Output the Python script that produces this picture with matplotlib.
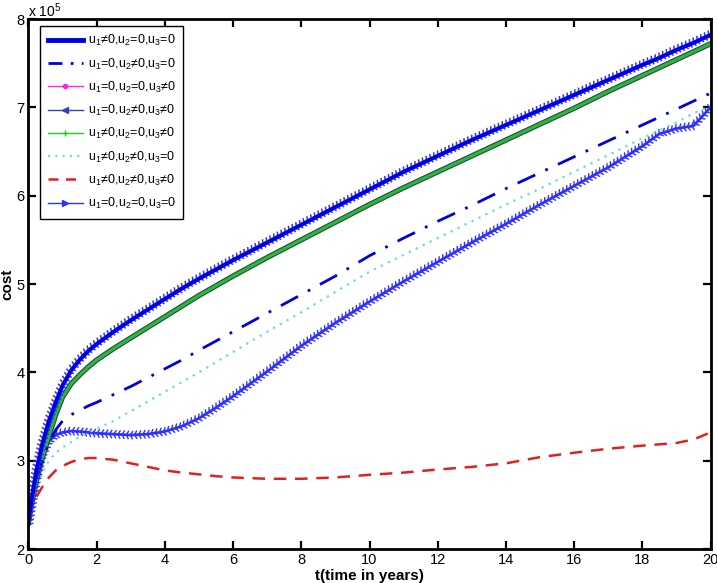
import numpy as np
import matplotlib
matplotlib.use("Agg")
import matplotlib.pyplot as plt
import matplotlib.patheffects as pe
from matplotlib.lines import Line2D

plt.rcParams['font.family'] = ['Liberation Sans', 'DejaVu Sans']
plt.rcParams['mathtext.fontset'] = 'custom'
plt.rcParams['mathtext.rm'] = 'Liberation Sans'
plt.rcParams['mathtext.it'] = 'Liberation Sans:italic'

# time grid (years) and cost curves (units of 1e5)
t = [0, 0.1, 0.25, 0.4, 0.6, 0.8, 1, 1.25, 1.5, 1.75, 2, 2.5, 3, 3.5, 4, 4.5,
     5, 5.5, 6, 7, 8, 9, 10, 11, 12, 13, 14, 15, 16, 17, 18, 18.5, 19, 19.5, 20]

cost_u1 = [2.30, 2.58, 2.92, 3.18, 3.45, 3.66, 3.85, 4.02, 4.14, 4.24, 4.32, 4.46,
           4.59, 4.71, 4.83, 4.95, 5.06, 5.165, 5.27, 5.47, 5.67, 5.87, 6.07, 6.27,
           6.45, 6.63, 6.80, 6.97, 7.14, 7.31, 7.48, 7.56, 7.65, 7.73, 7.82]
cost_u2 = [2.30, 2.55, 2.82, 3.00, 3.20, 3.35, 3.45, 3.52, 3.57, 3.62, 3.66, 3.75,
           3.84, 3.94, 4.04, 4.14, 4.25, 4.355, 4.46, 4.67, 4.88, 5.09, 5.32, 5.52,
           5.71, 5.89, 6.08, 6.26, 6.44, 6.62, 6.80, 6.89, 6.98, 7.07, 7.16]
cost_u3 = [2.30, 2.52, 2.80, 3.02, 3.28, 3.52, 3.72, 3.87, 3.97, 4.06, 4.14, 4.27,
           4.39, 4.51, 4.63, 4.75, 4.87, 4.98, 5.09, 5.30, 5.50, 5.70, 5.90, 6.09,
           6.27, 6.45, 6.63, 6.81, 6.99, 7.18, 7.36, 7.45, 7.54, 7.63, 7.72]
cost_u2u3 = cost_u1
cost_u1u3 = cost_u3
cost_u1u2 = [2.30, 2.48, 2.70, 2.86, 3.00, 3.09, 3.15, 3.21, 3.27, 3.32, 3.36, 3.45,
             3.56, 3.67, 3.78, 3.89, 4.00, 4.115, 4.23, 4.46, 4.68, 4.91, 5.14, 5.33,
             5.52, 5.71, 5.90, 6.08, 6.27, 6.46, 6.65, 6.74, 6.83, 6.93, 7.02]
cost_all = [2.37, 2.47, 2.60, 2.70, 2.81, 2.89, 2.94, 2.985, 3.015, 3.03, 3.03, 3.01,
            2.97, 2.93, 2.89, 2.865, 2.845, 2.825, 2.81, 2.795, 2.795, 2.81, 2.84, 2.865,
            2.90, 2.93, 2.97, 3.04, 3.09, 3.135, 3.17, 3.185, 3.20, 3.24, 3.32]
cost_none = [2.25, 2.48, 2.80, 3.05, 3.22, 3.29, 3.32, 3.335, 3.33, 3.32, 3.31, 3.30,
             3.29, 3.30, 3.33, 3.39, 3.48, 3.60, 3.73, 4.01, 4.30, 4.56, 4.80, 5.03,
             5.25, 5.47, 5.68, 5.90, 6.11, 6.32, 6.56, 6.70, 6.76, 6.79, 7.00]

labels = ['u$_1$≠0,u$_2$=0,u$_3$=0', 'u$_1$=0,u$_2$≠0,u$_3$=0',
          'u$_1$=0,u$_2$=0,u$_3$≠0', 'u$_1$=0,u$_2$≠0,u$_3$≠0',
          'u$_1$≠0,u$_2$=0,u$_3$≠0', 'u$_1$≠0,u$_2$≠0,u$_3$=0',
          'u$_1$≠0,u$_2$≠0,u$_3$≠0', 'u$_1$=0,u$_2$=0,u$_3$=0']

blue = '#0000dd'
tri = '#3030ff'

fig = plt.figure(figsize=(7.17, 5.83), dpi=100)
ax = fig.add_axes([0.0397, 0.0583, 0.9513, 0.9091])

# no control (dense right triangles)
ax.plot(t, cost_none, color=tri, lw=2.0,
        path_effects=[pe.TickedStroke(spacing=3, angle=60, length=1.0, linewidth=1.0),
                      pe.TickedStroke(spacing=3, angle=-60, length=1.0, linewidth=1.0),
                      pe.Normal()])
ax.plot(t, cost_all, color='#dd2222', lw=1.8, dashes=(5, 3.5))
ax.plot(t, cost_u1u2, color='#66dddd', lw=1.6, ls=(0, (1, 2.5)))
ax.plot(t, cost_u3, color='#ff22ff', lw=1.0)
ax.plot(t, cost_u1u3, color='#22bb44', lw=2.2,
        path_effects=[pe.Stroke(linewidth=3.8, foreground='#334433'), pe.Normal()])
ax.plot(t, cost_u2, color=blue, lw=2.0, dashes=(7, 4, 1, 4))
# thick u1 line with u2u3 triangle markers on top
ax.plot(t, cost_u2u3, color=tri, lw=3.0,
        path_effects=[pe.TickedStroke(spacing=3, angle=70, length=1.1, linewidth=1.1),
                      pe.TickedStroke(spacing=3, angle=-70, length=0.8, linewidth=1.1),
                      pe.Normal()])
ax.plot(t, cost_u1, color=blue, lw=2.6)

ax.set_xlim(0, 20)
ax.set_ylim(2, 8)
ax.set_xticks(np.arange(0, 21, 2))
ax.set_yticks(np.arange(2, 9, 1))
ax.tick_params(direction='in', top=True, right=True, length=6, width=1.6,
               labelsize=10.5, pad=3)
for s in ax.spines.values():
    s.set_linewidth(2)
ax.set_xlabel('t(time in years)', fontsize=11, fontweight='bold', labelpad=1)
ax.set_ylabel('cost', fontsize=11, fontweight='bold', labelpad=1)
ax.text(0.0, 0.999, 'x 10$^5$', transform=ax.transAxes, fontsize=10,
        ha='left', va='bottom')

handles = [
    Line2D([], [], color=blue, lw=3.5),
    Line2D([], [], color=blue, lw=2, dashes=(5, 3, 1, 3)),
    Line2D([], [], color='#ff22ff', lw=1, marker='.', ms=6),
    Line2D([], [], color='#3344bb', lw=1, marker='<', ms=5),
    Line2D([], [], color='#22cc22', lw=1, marker='+', ms=4),
    Line2D([], [], color='#66dddd', lw=1.5, ls=(0, (1, 2.5))),
    Line2D([], [], color='#dd2222', lw=1.8, dashes=(4, 3)),
    Line2D([], [], color=tri, lw=1, marker='>', ms=5),
]
leg = ax.legend(handles, labels, loc='upper left', bbox_to_anchor=(0.017, 0.987),
                borderaxespad=0, fontsize=9, numpoints=1, handlelength=2.8,
                labelspacing=0.65, handletextpad=0.4, fancybox=False,
                framealpha=1, edgecolor='black', borderpad=0.6)
leg.get_frame().set_linewidth(1.0)

fig.savefig('out.png', dpi=100)
